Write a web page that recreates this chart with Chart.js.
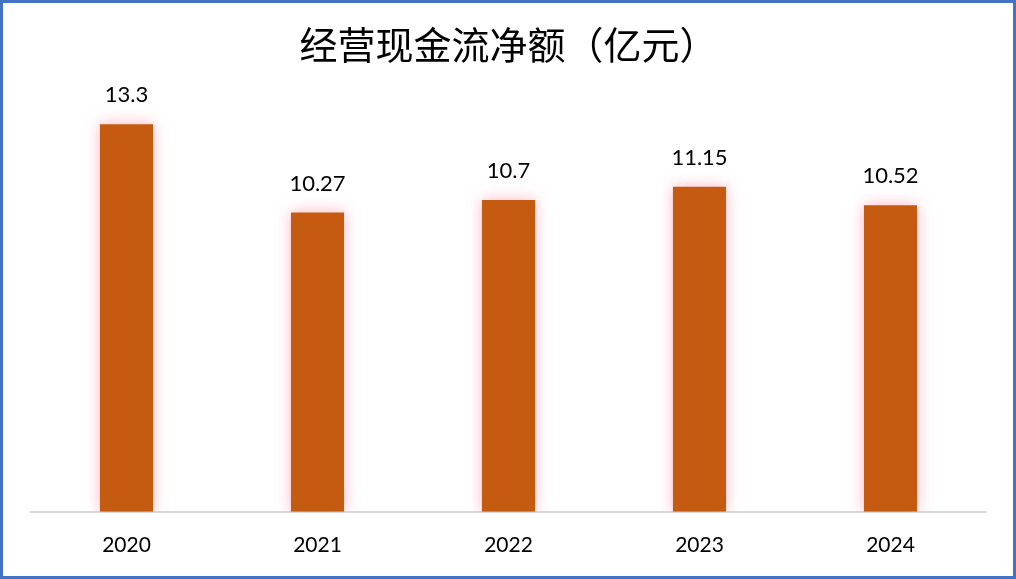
<!DOCTYPE html>
<html><head><meta charset="utf-8">
<script src="https://cdn.jsdelivr.net/npm/chart.js@4"></script>
<style>html,body{margin:0;padding:0;background:#fff}#wrap{width:1016px;height:579px;position:relative}</style>
</head><body><div id="wrap"><canvas id="c" width="1016" height="579"></canvas></div>
<script>
const categories = ['2020','2021','2022','2023','2024'];
const values = [13.3, 10.27, 10.7, 11.15, 10.52];
const valueLabels = ['13.3','10.27','10.7','11.15','10.52'];
const titleText = '经营现金流净额（亿元）';

const glow = {
  id:'glow',
  beforeDatasetsDraw(chart){ const c=chart.ctx; c.save(); c.shadowColor='rgba(255,120,150,0.55)'; c.shadowBlur=14; },
  afterDatasetsDraw(chart){
    const c=chart.ctx; c.restore();
    const meta=chart.getDatasetMeta(0);
    c.save(); c.fillStyle='#000'; c.font='22px Lato'; c.textAlign='center'; c.textBaseline='middle';
    meta.data.forEach((b,i)=>{ c.fillText(valueLabels[i], b.x, b.y-29); });
    c.restore();
  },
  afterDraw(chart){
    const c=chart.ctx; c.save(); c.strokeStyle='#4472C4'; c.lineWidth=3; c.strokeRect(1.5,1.5,1013,576); c.restore();
  }
};

new Chart(document.getElementById('c'), {
  type:'bar',
  data:{ labels:categories, datasets:[{ data:values, backgroundColor:'#C55A11', borderWidth:0, categoryPercentage:1, barPercentage:0.278 }]},
  options:{
    responsive:false, animation:false, devicePixelRatio:1,
    layout:{ padding:{ left:31, right:30, top:0, bottom:0 } },
    plugins:{
      legend:{display:false}, tooltip:{enabled:false},
      title:{ display:true, text:titleText, color:'#000', font:{family:'"Noto Sans CJK SC"', size:38, weight:'normal', lineHeight:1.2}, padding:{top:22,bottom:7} }
    },
    scales:{
      x:{ offset:true, grid:{display:false, drawTicks:false}, border:{display:true, color:'#D9D9D9', width:2},
          ticks:{ color:'#000', font:{family:'Lato', size:21}, padding:21 } },
      y:{ display:false, min:0, max:15 }
    }
  },
  plugins:[glow]
});
</script></body></html>
